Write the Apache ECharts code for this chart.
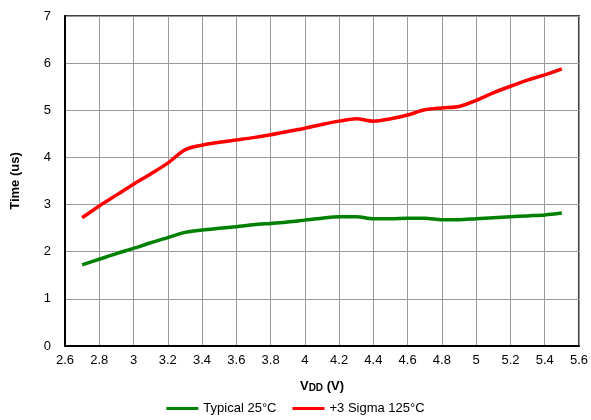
<!DOCTYPE html>
<html><head><meta charset="utf-8">
<script src="https://cdn.jsdelivr.net/npm/echarts@6/dist/echarts.min.js"></script>
<style>html,body{margin:0;padding:0;background:#fff}#c{width:591px;height:420px}</style>
</head><body><div id="c"></div>
<script>
const vdd = [2.7,2.8,2.9,3.0,3.1,3.2,3.3,3.4,3.5,3.6,3.7,3.8,3.9,4.0,4.1,4.2,4.3,4.4,4.5,4.6,4.7,4.8,4.9,5.0,5.1,5.2,5.3,5.4,5.5];
const typical25 = [1.72,1.84,1.96,2.07,2.19,2.30,2.41,2.46,2.50,2.53,2.57,2.60,2.63,2.67,2.71,2.74,2.74,2.70,2.70,2.71,2.71,2.68,2.68,2.70,2.72,2.74,2.76,2.78,2.82];
const sigma125 = [2.72,2.97,3.20,3.43,3.65,3.88,4.16,4.26,4.32,4.37,4.42,4.48,4.55,4.62,4.70,4.77,4.82,4.77,4.82,4.90,5.01,5.05,5.08,5.21,5.37,5.51,5.64,5.75,5.88];
const seriesNames = ['Typical 25°C', '+3 Sigma 125°C'];
const xTicks = {min: 2.6, max: 5.6, step: 0.2};
const yTicks = {min: 0, max: 7, step: 1};

const chart = echarts.init(document.getElementById('c'), null, {renderer: 'canvas'});
const font = 'Liberation Sans, Arial, sans-serif';
chart.setOption({
  animation: false,
  textStyle: {fontFamily: font},
  grid: {left: 65, right: 11, top: 16, bottom: 74, show: true, borderColor: '#404040', borderWidth: 2, containLabel: false},
  xAxis: {
    type: 'value', min: xTicks.min, max: xTicks.max, interval: xTicks.step,
    axisLine: {show: true, onZero: false, lineStyle: {color: '#000', width: 2}},
    axisTick: {show: false},
    axisLabel: {color: '#000', fontSize: 13, fontFamily: font, margin: 8,
      formatter: v => String(Math.round(v * 10) / 10)},
    splitLine: {show: true, lineStyle: {color: '#9a9a9a', width: 1}},
    name: '{v|V}{dd|DD}{v| (V)}', nameLocation: 'middle', nameGap: 34,
    nameTextStyle: {rich: {
      v: {fontSize: 13, fontWeight: 'bold', color: '#000', fontFamily: font},
      dd: {fontSize: 10, fontWeight: 'bold', color: '#000', fontFamily: font, verticalAlign: 'bottom'}
    }}
  },
  yAxis: {
    type: 'value', min: yTicks.min, max: yTicks.max, interval: yTicks.step,
    axisLine: {show: true, lineStyle: {color: '#000', width: 2}},
    axisTick: {show: false},
    axisLabel: {color: '#000', fontSize: 13, fontFamily: font, margin: 14},
    splitLine: {show: true, lineStyle: {color: '#9a9a9a', width: 1}},
    name: 'Time (us)', nameLocation: 'middle', nameGap: 43,
    nameTextStyle: {fontSize: 13, fontWeight: 'bold', color: '#000', fontFamily: font}
  },
  legend: {
    bottom: 0, left: 'center', itemWidth: 32, itemHeight: 3, itemGap: 16,
    icon: 'rect',
    textStyle: {fontSize: 13, color: '#000', fontFamily: font},
    data: seriesNames
  },
  series: [
    {name: seriesNames[0], type: 'line', smooth: 0.3, symbol: 'none',
     lineStyle: {color: '#008000', width: 3.5}, itemStyle: {color: '#008000'},
     data: vdd.map((x, i) => [x, typical25[i]])},
    {name: seriesNames[1], type: 'line', smooth: 0.3, symbol: 'none',
     lineStyle: {color: '#ff0000', width: 3.5}, itemStyle: {color: '#ff0000'},
     data: vdd.map((x, i) => [x, sigma125[i]])}
  ]
});
</script></body></html>
